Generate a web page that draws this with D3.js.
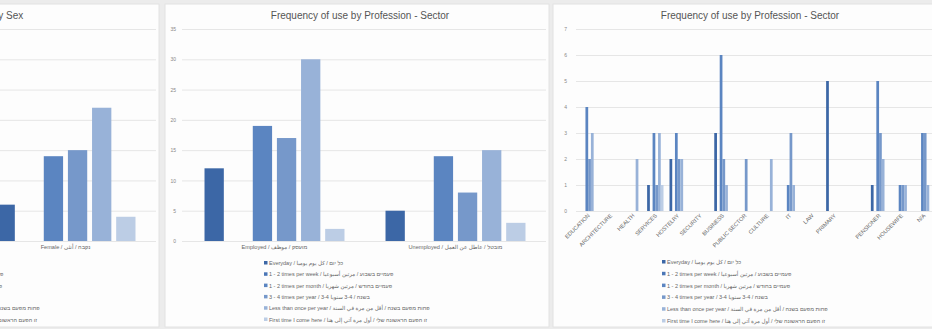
<!DOCTYPE html>
<html><head><meta charset="utf-8">
<script src="https://cdn.jsdelivr.net/npm/d3@7"></script>
<style>
html,body{margin:0;padding:0;background:#ececec;}
svg{display:block;font-family:"Liberation Sans","DejaVu Sans",Arial,sans-serif;}
</style></head>
<body><svg id="c" width="932" height="329"></svg>
<script>
// ---------- data ----------
const seriesLabels = [
  "Everyday / כל יום / كل يوم يوميا",
  "1 - 2 times per week / פעמיים בשבוע / مرتين أسبوعيا",
  "1 - 2 times per month / פעמיים בחודש / مرتين شهريا",
  "3 - 4 times per year / 3-4 בשנה / 3-4 سنويا",
  "Less than once per year / פחות מפעם בשנה / أقل من مرة في السنة",
  "First time I come here / זו הפעם הראשונה שלי / أول مرة آتي إلى هنا"
];
const seriesColors = ["#3c67a6", "#4a76b6", "#5b85c1", "#7698ca", "#98b2d8", "#bccde5"];

const sexCategories = ["Male / זכר / ذكر", "Female / נקבה / أنثى"];
const sexValues = [
  [11, 6],   // Everyday
  [0, 0],    // 1-2 per week
  [19, 14],  // 1-2 per month
  [10, 15],  // 3-4 per year
  [23, 22],  // less than once per year
  [1, 4]     // first time
];

const sectorCategories = ["Employed / מועסק / موظف", "Unemployed / מובטל / عاطل عن العمل"];
const sectorValues = [
  [12, 5],
  [0, 0],
  [19, 14],
  [17, 8],
  [30, 15],
  [2, 3]
];
const groupTicks = [0, 5, 10, 15, 20, 25, 30, 35];

const professionCategories = ["EDUCATION","ARCHITECTURE","HEALTH","SERVICES","HOSTELRY","SECURITY","BUSINESS","PUBLIC SECTOR","CULTURE","IT","LAW","PRIMARY"," ","PENSIONER","HOUSEWIFE","N/A"];
const professionValues = [
  [0,0,0,1,2,0,3,0,0,0,0,5,0,1,0,0],
  [0,0,0,0,0,0,0,0,0,0,0,0,0,0,0,0],
  [4,0,0,3,3,0,6,0,0,1,0,0,0,5,1,3],
  [2,0,0,1,2,0,2,2,0,3,0,0,0,3,1,3],
  [3,0,2,3,2,0,1,0,2,1,0,0,0,2,1,1],
  [0,0,0,1,0,0,0,0,0,0,0,0,0,0,0,0]
];
const professionTicks = [0,1,2,3,4,5,6,7];

// ---------- drawing ----------
const svg = d3.select("#c");
const textCol = "#666";

function card(x, y, w, h) {
  svg.append("rect").attr("x", x).attr("y", y).attr("width", w).attr("height", h)
    .attr("fill", "#fdfdfd").attr("stroke", "#e2e2e2").attr("stroke-width", 1);
}

function legend(g, x0, y0, dy) {
  seriesLabels.forEach((lab, i) => {
    const row = g.append("g").attr("transform", `translate(${x0},${y0 + i * dy})`);
    row.append("rect").attr("x", 0).attr("y", -3).attr("width", 3.5).attr("height", 3.5).attr("fill", seriesColors[i]);
    row.append("text").attr("x", 5).attr("y", 1).attr("font-size", 5.5).attr("fill", textCol)
      .attr("direction", "ltr").text(lab);
  });
}

function groupedPanel(dx, title, titleX, cats, values) {
  const g = svg.append("g").attr("transform", `translate(${dx},0)`);
  const y = d3.scaleLinear().domain([0, 35]).range([241, 29]);
  const x0 = d3.scaleBand().domain(cats).range([184, 546]).paddingInner(0.2).paddingOuter(0.1);
  const x1 = d3.scaleBand().domain(d3.range(seriesLabels.length)).range([0, x0.bandwidth()]).paddingInner(0.2).paddingOuter(0.1);

  g.append("text").attr("x", titleX).attr("y", 19).attr("text-anchor", "middle")
    .attr("font-size", 10).attr("fill", "#555").text(title);

  const yAxis = g.append("g").attr("transform", "translate(182,0)")
    .call(d3.axisLeft(y).tickValues(groupTicks).tickSize(-364).tickPadding(6).tickFormat(d3.format("d")));
  yAxis.select(".domain").remove();
  yAxis.selectAll(".tick line").attr("stroke", "#e6e6e6");
  yAxis.selectAll(".tick text").attr("font-size", 5).attr("fill", "#888");

  cats.forEach((c, ci) => {
    values.forEach((vals, si) => {
      const v = vals[ci];
      if (v <= 0) return;
      g.append("rect").attr("x", x0(c) + x1(si)).attr("width", x1.bandwidth())
        .attr("y", y(v)).attr("height", y(0) - y(v)).attr("fill", seriesColors[si]);
    });
    g.append("text").attr("x", x0(c) + x0.bandwidth() / 2).attr("y", 249).attr("text-anchor", "middle")
      .attr("font-size", 5.6).attr("fill", textCol).attr("direction", "ltr").text(c);
  });
  legend(g, 264, 264, 11.3);
}

// panel 1 (cut off on the left)
card(-226, 4, 385, 323);
groupedPanel(-390, "Frequency of use by Sex", 358, sexCategories, sexValues);
// panel 2
card(165, 4, 384, 323);
groupedPanel(0, "Frequency of use by Profession - Sector", 360, sectorCategories, sectorValues);

// panel 3
card(553, 4, 390, 323);
(function () {
  const g = svg.append("g");
  const y = d3.scaleLinear().domain([0, 7]).range([211, 29]);
  const x0 = d3.scaleBand().domain(professionCategories).range([577, 935]);
  const x1 = d3.scaleBand().domain(d3.range(seriesLabels.length)).range([0, x0.bandwidth()]).paddingOuter(1.1);

  g.append("text").attr("x", 750).attr("y", 19).attr("text-anchor", "middle")
    .attr("font-size", 10).attr("fill", "#555").text("Frequency of use by Profession - Sector");

  const yAxis = g.append("g").attr("transform", "translate(576,0)")
    .call(d3.axisLeft(y).tickValues(professionTicks).tickSize(-360).tickPadding(9).tickFormat(d3.format("d")));
  yAxis.select(".domain").remove();
  yAxis.selectAll(".tick line").attr("stroke", "#e6e6e6");
  yAxis.selectAll(".tick text").attr("font-size", 5).attr("fill", "#888");

  professionCategories.forEach((c, ci) => {
    professionValues.forEach((vals, si) => {
      const v = vals[ci];
      if (v <= 0) return;
      g.append("rect").attr("x", x0(c) + x1(si)).attr("width", x1.bandwidth())
        .attr("y", y(v)).attr("height", y(0) - y(v)).attr("fill", seriesColors[si]);
    });
    const cx = x0(c) + x0.bandwidth() / 2;
    g.append("text").attr("transform", `translate(${cx + 2},${216}) rotate(-45)`)
      .attr("text-anchor", "end").attr("font-size", 5.6).attr("fill", textCol).text(c);
  });
  legend(g, 662, 263, 11.8);
})();
</script></body></html>
